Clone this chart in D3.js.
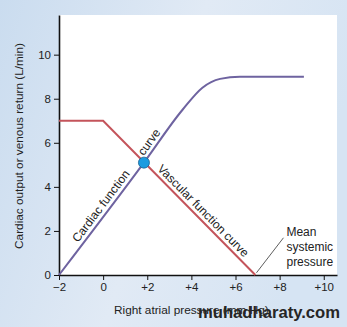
<!DOCTYPE html>
<html>
  <head>
    <meta charset="UTF-8" />
    <title>Cardiac and vascular function curves</title>
    <script src="https://d3js.org/d3.v7.min.js"></script>
    <style>
      * { margin: 0; padding: 0; }
      body { width: 347px; height: 327px; overflow: hidden; }
      svg { display: block; }
      text { font-family: "Liberation Sans", Arial, sans-serif; fill: #222; }
      .axis path, .axis line { stroke: #111; }
      .axis text { font-size: 11.5px; fill: #222; }
    </style>
  </head>
  <body>
    <svg id="chart" width="347" height="327"></svg>
  </body>
  <script>
    // values
    const cardiacCurve = [[-2, 0], [1.85, 5.1], [3.6, 7.5], [4.5, 8.5], [5.3, 8.9], [6.2, 9], [9.1, 9]];
    const vascularCurve = [[-2, 7], [0, 7], [6.9, 0]];
    const equilibrium = [1.85, 5.1];
    const xTicks = [-2, 0, 2, 4, 6, 8, 10];
    const yTicks = [0, 2, 4, 6, 8, 10];
    const mspLabel = ["Mean", "systemic", "pressure"];

    const W = 347, H = 327;
    const m = { left: 59, right: 10, top: 15, bottom: 52 };
    const svg = d3.select("#chart");

    // background gradient
    const defs = svg.append("defs");
    const grad = defs.append("linearGradient").attr("id", "bg")
      .attr("x1", 0).attr("y1", 0).attr("x2", 1).attr("y2", 0.3);
    grad.append("stop").attr("offset", "0%").attr("stop-color", "#cadcef");
    grad.append("stop").attr("offset", "55%").attr("stop-color", "#e1eaf5");
    grad.append("stop").attr("offset", "100%").attr("stop-color", "#d6e4f3");
    svg.append("rect").attr("width", W).attr("height", H).attr("fill", "url(#bg)");

    const x = d3.scaleLinear().domain([-2, 10.6]).range([m.left, W - m.right]);
    const y = d3.scaleLinear().domain([0, 11.8]).range([H - m.bottom, m.top]);

    // white plot area
    svg.append("rect")
      .attr("x", x(-2)).attr("y", y(11.8))
      .attr("width", x(10.6) - x(-2)).attr("height", y(0) - y(11.8))
      .attr("fill", "#fff");

    const fmt = d => d > 0 ? "+" + d : d < 0 ? "\u2212" + Math.abs(d) : "0";

    svg.append("g").attr("class", "axis")
      .attr("transform", `translate(0,${y(0)})`)
      .call(d3.axisBottom(x).tickValues(xTicks).tickFormat(fmt).tickSize(5).tickSizeOuter(0).tickPadding(3))
      .call(g => g.select(".domain").attr("stroke-width", 1.6));

    svg.append("g").attr("class", "axis")
      .attr("transform", `translate(${x(-2)},0)`)
      .call(d3.axisLeft(y).tickValues(yTicks).tickSize(5).tickSizeOuter(0).tickPadding(3))
      .call(g => g.select(".domain").attr("stroke-width", 1.6));

    // curves
    const line = d3.line().x(d => x(d[0])).y(d => y(d[1]));
    svg.append("path").datum(vascularCurve)
      .attr("d", line)
      .attr("fill", "none").attr("stroke", "#c4545b").attr("stroke-width", 2);
    svg.append("path").datum(cardiacCurve)
      .attr("d", line.curve(d3.curveMonotoneX))
      .attr("fill", "none").attr("stroke", "#6e63a0").attr("stroke-width", 2);

    // equilibrium point
    svg.append("circle")
      .attr("cx", x(equilibrium[0])).attr("cy", y(equilibrium[1])).attr("r", 5.5)
      .attr("fill", "#1b9be0").attr("stroke", "#15608f").attr("stroke-width", 0.8);

    // labels along the curves
    function alongLabel(p0, p1, t, offset, str) {
      const ax = x(p0[0]), ay = y(p0[1]), bx = x(p1[0]), by = y(p1[1]);
      const ang = Math.atan2(by - ay, bx - ax) * 180 / Math.PI;
      const px = ax + (bx - ax) * t, py = ay + (by - ay) * t;
      svg.append("text")
        .attr("transform", `translate(${px},${py}) rotate(${ang})`)
        .attr("y", -offset)
        .attr("text-anchor", "middle")
        .attr("font-size", 12)
        .text(str);
    }
    alongLabel(cardiacCurve[0], cardiacCurve[1], 0.57, 4, "Cardiac function");
    alongLabel(cardiacCurve[1], cardiacCurve[2], 0.3, 4, "curve");
    alongLabel(vascularCurve[1], vascularCurve[2], 0.62, 4, "Vascular function curve");

    // mean systemic pressure callout
    svg.append("line")
      .attr("x1", x(6.95)).attr("y1", y(0.1))
      .attr("x2", x(6.95) + 27).attr("y2", y(0.1) - 35)
      .attr("stroke", "#333").attr("stroke-width", 0.8);
    svg.append("text")
      .attr("x", x(6.95) + 30).attr("y", y(0.1) - 37)
      .attr("font-size", 12)
      .selectAll("tspan").data(mspLabel).join("tspan")
      .attr("x", x(6.95) + 30).attr("dy", (d, i) => i ? 15 : 0)
      .text(d => d);

    // axis titles
    svg.append("text")
      .attr("transform", "translate(23,146) rotate(-90)")
      .attr("text-anchor", "middle").attr("font-size", 11.8)
      .text("Cardiac output or venous return (L/min)");
    svg.append("text")
      .attr("x", 114).attr("y", 314).attr("font-size", 11.8)
      .text("Right atrial pressure (mm Hg)");

    // watermark
    svg.append("text")
      .attr("x", 198).attr("y", 318)
      .attr("font-family", "DejaVu Sans, sans-serif").attr("font-weight", "bold")
      .attr("font-size", 16).attr("textLength", 142).attr("lengthAdjust", "spacingAndGlyphs")
      .style("fill", "#262626")
      .text("muhadharaty.com");
  </script>
</html>
